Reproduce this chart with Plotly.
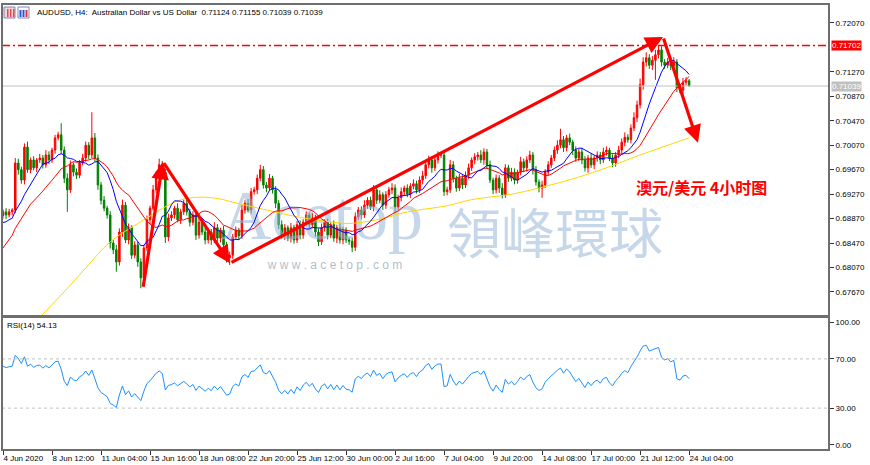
import numpy as np
import pandas as pd
import plotly.graph_objects as go

# ---------------- data ----------------
# closes of the 30 H4 bars before 4 Jun (only needed for indicator warm-up, off-screen)
pre_closes = [0.6700, 0.6680, 0.6715, 0.6690, 0.6670, 0.6705, 0.6730, 0.6700, 0.6720, 0.6745,
              0.6715, 0.6760, 0.6735, 0.6780, 0.6755, 0.6800, 0.6785, 0.6830, 0.6810, 0.6850,
              0.6868, 0.6880, 0.6865, 0.6878, 0.6862, 0.6885, 0.6870, 0.6895, 0.6880, 0.6892]

closes = [
    0.6898, 0.6893, 0.6898, 0.6901, 0.6978, 0.6967, 0.6950, 0.7004, 0.6967, 0.6983, 0.6970, 0.6983, 0.6986, 0.6975, 0.6991,
    0.6983, 0.6999, 0.7019, 0.7024, 0.6999, 0.6953, 0.6934, 0.6975, 0.6963, 0.6958, 0.6978, 0.6986, 0.7007, 0.6991, 0.7019,
    0.6986, 0.6942, 0.6917, 0.6904, 0.6893, 0.6847, 0.6836, 0.6816, 0.6865, 0.6909, 0.6852, 0.6872, 0.6827, 0.6844, 0.6816,
    0.6790, 0.6839, 0.6885, 0.6904, 0.6934, 0.6958, 0.6975, 0.6963, 0.6857, 0.6888, 0.6893, 0.6904, 0.6885, 0.6898, 0.6912,
    0.6898, 0.6881, 0.6893, 0.6860, 0.6881, 0.6865, 0.6852, 0.6865, 0.6852, 0.6872, 0.6855, 0.6868, 0.6844, 0.6823, 0.6827,
    0.6857, 0.6868, 0.6859, 0.6901, 0.6912, 0.6901, 0.6931, 0.6934, 0.6953, 0.6967, 0.6942, 0.6937, 0.6953, 0.6934, 0.6912,
    0.6877, 0.6860, 0.6872, 0.6855, 0.6872, 0.6852, 0.6877, 0.6860, 0.6881, 0.6893, 0.6877, 0.6888, 0.6865, 0.6849, 0.6872,
    0.6881, 0.6860, 0.6877, 0.6855, 0.6872, 0.6852, 0.6868, 0.6852, 0.6850, 0.6840, 0.6890, 0.6901, 0.6893, 0.6909, 0.6917,
    0.6906, 0.6934, 0.6917, 0.6926, 0.6909, 0.6926, 0.6934, 0.6937, 0.6906, 0.6921, 0.6931, 0.6937, 0.6927, 0.6940, 0.6944,
    0.6934, 0.6950, 0.6957, 0.6975, 0.6983, 0.6970, 0.6983, 0.6991, 0.6991, 0.6931, 0.6934, 0.6975, 0.6953, 0.6937, 0.6953,
    0.6942, 0.6958, 0.6970, 0.6983, 0.6988, 0.6991, 0.6983, 0.6996, 0.6975, 0.6950, 0.6934, 0.6953, 0.6937, 0.6926, 0.6970,
    0.6953, 0.6963, 0.6950, 0.6963, 0.6980, 0.6970, 0.6983, 0.6991, 0.6967, 0.6947, 0.6937, 0.6942, 0.6963, 0.6975, 0.6986,
    0.6999, 0.7007, 0.7016, 0.7003, 0.7019, 0.7012, 0.6999, 0.6986, 0.6996, 0.6983, 0.6970, 0.6986, 0.6975, 0.6986, 0.6991,
    0.6983, 0.6996, 0.6999, 0.6986, 0.6978, 0.6991, 0.6999, 0.7012, 0.7020, 0.7016, 0.7035, 0.7052, 0.7073, 0.7106, 0.7143,
    0.7150, 0.7138, 0.7146, 0.7155, 0.7163, 0.7143, 0.7138, 0.7143, 0.7137, 0.7143, 0.7101, 0.7097, 0.7110, 0.71124, 0.71039,
]

# wick lengths above / below the body, in pips (0.0001)
upper_wick_pips = [
    4, 6, 5, 3, 8, 7, 5, 6, 9, 4, 6, 3, 7, 5, 8,
    6, 4, 5, 5, 19, 6, 8, 7, 4, 6, 5, 7, 6, 5, 42,
    8, 6, 5, 7, 4, 6, 5, 8, 6, 9, 5, 7, 4, 6, 5,
    6, 5, 7, 4, 8, 6, 10, 6, 5, 7, 6, 4, 8, 5, 6,
    7, 5, 6, 4, 8, 5, 7, 6, 5, 9, 6, 4, 7, 5, 6,
    5, 6, 4, 8, 5, 7, 6, 5, 6, 8, 6, 5, 7, 4, 6,
    5, 7, 6, 4, 8, 5, 6, 7, 5, 6, 4, 8, 5, 6, 7,
    5, 6, 4, 7, 5, 8, 6, 5, 4, 6, 7, 5, 6, 8, 5,
    6, 8, 5, 7, 4, 6, 5, 8, 6, 5, 7, 4, 6, 5, 7,
    5, 6, 8, 5, 7, 6, 4, 6, 5, 6, 5, 8, 6, 4, 7,
    5, 6, 7, 4, 6, 5, 8, 6, 5, 7, 4, 6, 5, 8, 6,
    5, 7, 6, 4, 8, 5, 6, 7, 5, 6, 4, 7, 5, 6, 5,
    6, 8, 18, 6, 5, 7, 4, 6, 5, 7, 6, 5, 8, 4, 6,
    5, 7, 6, 4, 6, 5, 7, 6, 8, 5, 6, 9, 7, 10, 8,
    9, 6, 7, 8, 7, 6, 5, 7, 6, 8, 5, 6, 7, 6, 3,
]
lower_wick_pips = [
    5, 7, 4, 6, 5, 8, 6, 7, 5, 6, 4, 7, 5, 6, 5,
    7, 5, 6, 4, 6, 8, 36, 5, 7, 6, 5, 4, 6, 7, 5,
    6, 8, 7, 5, 6, 9, 7, 16, 6, 8, 5, 7, 6, 5, 8,
    17, 6, 5, 7, 4, 6, 5, 6, 10, 7, 5, 6, 4, 7, 5,
    6, 7, 5, 8, 6, 5, 7, 6, 8, 5, 6, 7, 5, 8, 12,
    6, 5, 7, 5, 6, 4, 6, 5, 7, 5, 6, 7, 5, 6, 8,
    7, 6, 8, 5, 7, 6, 5, 7, 6, 5, 7, 6, 8, 7, 5,
    6, 7, 5, 6, 8, 6, 7, 5, 6, 8, 6, 5, 7, 5, 6,
    5, 7, 6, 5, 8, 6, 5, 7, 9, 5, 6, 7, 5, 6, 5,
    6, 5, 7, 5, 6, 8, 5, 6, 5, 7, 6, 5, 7, 6, 5,
    7, 5, 6, 5, 7, 6, 5, 8, 6, 5, 7, 6, 8, 6, 5,
    6, 5, 7, 6, 5, 7, 6, 5, 8, 6, 7, 16, 5, 6, 5,
    5, 6, 5, 7, 6, 5, 8, 6, 5, 7, 6, 8, 5, 7, 6,
    7, 5, 6, 5, 7, 6, 5, 6, 7, 5, 6, 5, 7, 6, 8,
    7, 6, 8, 32, 6, 7, 6, 5, 7, 6, 7, 5, 6, 5, 0,
]

# slow (yellow) moving average, read at selected bars
yellow_idx = [0, 19, 27, 35, 47, 54, 59, 64, 70, 75, 86, 97, 108, 113, 123, 132, 145, 153, 166, 175, 188, 197, 208, 224]
yellow_ma = [0.6664, 0.6762, 0.6806, 0.6849, 0.6888, 0.6909, 0.6919, 0.6922, 0.6920, 0.6914, 0.6901, 0.6889,
             0.6881, 0.6879, 0.6886, 0.6898, 0.6908, 0.6918, 0.6927, 0.6937, 0.6955, 0.6970, 0.6991, 0.7019]

tick_idx = list(range(0, 225, 16))
tick_labels = ["4 Jun 2020", "8 Jun 12:00", "11 Jun 04:00", "15 Jun 16:00", "18 Jun 08:00", "22 Jun 20:00",
               "25 Jun 12:00", "30 Jun 00:00", "2 Jul 16:00", "7 Jul 04:00", "9 Jul 20:00", "14 Jul 08:00",
               "17 Jul 00:00", "21 Jul 12:00", "24 Jul 04:00"]
price_ticks = [0.67670, 0.68070, 0.68470, 0.68870, 0.69270, 0.69670, 0.70070, 0.70470, 0.70870, 0.71270, 0.72070]
rsi_ticks = [0, 30, 70, 100]
rsi_levels = [30, 70]
high_line = 0.71702
last_price = 0.71039
# trend arrows: (tail bar, tail price, head bar, head price)
arrows = [(45.7, 0.6773, 52.2, 0.6980), (52.2, 0.6980, 74.1, 0.6814),
          (74.1, 0.6814, 215.5, 0.7184), (215.5, 0.7184, 226.9, 0.7011)]

# ---------------- derived series ----------------
allc = np.array(pre_closes + closes)
npre = len(pre_closes)
n = len(closes)
xi = np.arange(n)
opens = np.array([pre_closes[-1]] + closes[:-1])
cl = np.array(closes)
highs = np.maximum(opens, cl) + np.array(upper_wick_pips) * 1e-4
lows = np.minimum(opens, cl) - np.array(lower_wick_pips) * 1e-4

s = pd.Series(allc)
ma10 = s.rolling(10).mean().values[npre:]
ma20 = s.rolling(20).mean().values[npre:]

d = np.diff(allc)
g = np.clip(d, 0, None)
l = np.clip(-d, 0, None)
p = 14
ag, al = g[:p].mean(), l[:p].mean()
rsi_all = [np.nan] * len(allc)
rsi_all[p] = 100 - 100 / (1 + ag / al)
for j in range(p + 1, len(allc)):
    ag = (ag * (p - 1) + g[j - 1]) / p
    al = (al * (p - 1) + l[j - 1]) / p
    rsi_all[j] = 100 - 100 / (1 + ag / al) if al > 0 else 100
rsi = np.array(rsi_all[npre:])

# ---------------- geometry helpers ----------------
W, H = 870, 465
ML, MR, MT, MB = 2, 41, 4, 15
PW, PH = W - ML - MR, H - MT - MB


def px_x(px):
    return (px - ML) / PW


def px_y(py):
    return (H - MB - py) / PH


def bar_at(px):
    return (px - 3) / 3.063


def price_at(py):
    return 0.72446 - 0.0001636 * py


main_dom = [px_y(316), 1.0]
rsi_dom = [0.0, px_y(317)]
xr = [-1 / 3.063, -1 / 3.063 + PW / 3.063]
yr_main = [price_at(316), price_at(4)]
yr_rsi = [-4.07, 104.07]

FONT = "Liberation Sans, Arial, sans-serif"

fig = go.Figure()

# watermark (under everything)
fig.add_trace(go.Scatter(
    x=[bar_at(322), bar_at(555)], y=[price_at(221), price_at(240)],
    mode="text", text=["Acetop", "領峰環球"], textposition="middle center",
    textfont=dict(family="Liberation Serif, Noto Sans CJK TC, serif", size=[70, 54],
                  color="rgba(150,182,214,0.55)"),
    hoverinfo="skip", showlegend=False, xaxis="x", yaxis="y"))
fig.add_trace(go.Scatter(
    x=[bar_at(335)], y=[price_at(266)], mode="text", text=["w w w . a c e t o p . c o m"],
    textfont=dict(family="Liberation Sans, sans-serif", size=12, color="rgba(150,165,185,0.75)"),
    hoverinfo="skip", showlegend=False, xaxis="x", yaxis="y"))

fig.add_trace(go.Candlestick(
    x=xi, open=opens, high=highs, low=lows, close=cl,
    increasing=dict(line=dict(color="#ff0000", width=1), fillcolor="#ff0000"),
    decreasing=dict(line=dict(color="#008000", width=1), fillcolor="#008000"),
    whiskerwidth=0, showlegend=False, hoverinfo="skip", xaxis="x", yaxis="y"))

fig.add_trace(go.Scatter(x=yellow_idx, y=yellow_ma, mode="lines", line=dict(color="#ffd700", width=1, shape="spline"),
                         showlegend=False, hoverinfo="skip", xaxis="x", yaxis="y"))
fig.add_trace(go.Scatter(x=xi, y=ma20, mode="lines", line=dict(color="#ff0000", width=1),
                         showlegend=False, hoverinfo="skip", xaxis="x", yaxis="y"))
fig.add_trace(go.Scatter(x=xi, y=ma10, mode="lines", line=dict(color="#0000ff", width=1),
                         showlegend=False, hoverinfo="skip", xaxis="x", yaxis="y"))

fig.add_trace(go.Scatter(x=xi, y=rsi, mode="lines", line=dict(color="#1e90ff", width=1),
                         showlegend=False, hoverinfo="skip", xaxis="x2", yaxis="y2"))

# highest-price dash-dot line across the full panel
fig.add_trace(go.Scatter(x=[xr[0], xr[1]], y=[high_line, high_line], mode="lines",
                         line=dict(color="rgb(255,0,0)", width=1.5, dash="8px,3px,2px,3px"),
                         showlegend=False, hoverinfo="skip", xaxis="x", yaxis="y"))

shapes = []
for lv in rsi_levels:
    shapes.append(dict(type="line", xref="x2 domain", x0=0, x1=1, yref="y2", y0=lv, y1=lv,
                       line=dict(color="#c0c0c0", width=1, dash="dot")))
shapes.append(dict(type="line", xref="x domain", x0=0, x1=1, yref="y", y0=last_price, y1=last_price,
                   line=dict(color="#c0c0c0", width=1)))
for dom in (main_dom, rsi_dom):
    shapes.append(dict(type="rect", xref="paper", yref="paper", x0=0, x1=1, y0=dom[0], y1=dom[1],
                       line=dict(color="#6e6e6e", width=2), fillcolor="rgba(0,0,0,0)"))
# header icons
shapes.append(dict(type="rect", xref="paper", yref="paper", x0=px_x(4), x1=px_x(15), y0=px_y(18), y1=px_y(7),
                   line=dict(color="#7a88c0", width=1), fillcolor="#f3d3d3"))
for bx in (7, 10, 13):
    shapes.append(dict(type="rect", xref="paper", yref="paper", x0=px_x(bx), x1=px_x(bx + 1.5), y0=px_y(17),
                       y1=px_y(9), line=dict(width=0), fillcolor="#e05050"))
shapes.append(dict(type="rect", xref="paper", yref="paper", x0=px_x(18), x1=px_x(29), y0=px_y(18), y1=px_y(7),
                   line=dict(color="#7a88c0", width=1), fillcolor="#ffffff"))
for bx, col in ((19.5, "#3050d0"), (22.5, "#3050d0"), (25.5, "#e03030")):
    shapes.append(dict(type="rect", xref="paper", yref="paper", x0=px_x(bx), x1=px_x(bx + 2), y0=px_y(17),
                       y1=px_y(10), line=dict(width=0), fillcolor=col))

annotations = []
for (x0, y0, x1, y1) in arrows:
    annotations.append(dict(x=x1, y=y1, ax=x0, ay=y0, xref="x", yref="y", axref="x", ayref="y", text="",
                            showarrow=True, arrowhead=2, arrowsize=1.1, arrowwidth=3.2, arrowcolor="#ff0000",
                            standoff=0, startstandoff=0))
annotations.append(dict(x=px_x(35), y=px_y(12), xref="paper", yref="paper", xanchor="left", yanchor="middle",
                        text="AUDUSD, H4:  Australian Dollar vs US Dollar  0.71124 0.71155 0.71039 0.71039",
                        showarrow=False, font=dict(family=FONT, size=8, color="#000000")))
annotations.append(dict(x=px_x(5), y=px_y(325), xref="paper", yref="paper", xanchor="left", yanchor="middle",
                        text="RSI(14) 54.13", showarrow=False, font=dict(family=FONT, size=8, color="#000000")))
annotations.append(dict(x=px_x(634), y=px_y(187), xref="paper", yref="paper", xanchor="left", yanchor="middle",
                        text="<b>澳元/美元 4小时图</b>", showarrow=False,
                        font=dict(family="Noto Sans CJK SC, sans-serif", size=16, color="#ff0000")))
for val, bg in ((high_line, "#ff0000"), (last_price, "#c0c0c0")):
    annotations.append(dict(x=1, y=val, xref="paper", yref="y", xanchor="left", yanchor="middle", xshift=2,
                            text=f"{val:.5f}", showarrow=False, bgcolor=bg, borderpad=0,
                            font=dict(family=FONT, size=8, color="#ffffff")))

fig.update_layout(
    width=W, height=H, margin=dict(l=ML, r=MR, t=MT, b=MB, autoexpand=False),
    paper_bgcolor="#ffffff", plot_bgcolor="#ffffff", showlegend=False,
    xaxis=dict(domain=[0, 1], anchor="y", range=xr, showticklabels=False, showgrid=False, zeroline=False,
               ticks="", rangeslider=dict(visible=False), automargin=False),
    yaxis=dict(domain=main_dom, anchor="x", range=yr_main, side="right", showgrid=False, zeroline=False,
               tickvals=price_ticks, ticktext=[f"{v:.5f}" for v in price_ticks], ticks="outside", ticklen=4,
               tickcolor="#333333", tickfont=dict(family=FONT, size=8, color="#000000"), automargin=False),
    xaxis2=dict(domain=[0, 1], anchor="y2", range=xr, showgrid=False, zeroline=False, tickvals=tick_idx,
                ticktext=tick_labels, ticks="outside", ticklen=4, tickcolor="#333333", tickangle=0,
                ticklabelposition="outside right", automargin=False,
                tickfont=dict(family=FONT, size=8, color="#000000")),
    yaxis2=dict(domain=rsi_dom, anchor="x2", range=yr_rsi, side="right", showgrid=False, zeroline=False,
                tickvals=rsi_ticks, ticktext=[f"{v:.2f}" for v in rsi_ticks], ticks="outside", ticklen=4,
                tickcolor="#333333", tickfont=dict(family=FONT, size=8, color="#000000"), automargin=False),
    shapes=shapes, annotations=annotations,
)

fig.write_html("out.html")
